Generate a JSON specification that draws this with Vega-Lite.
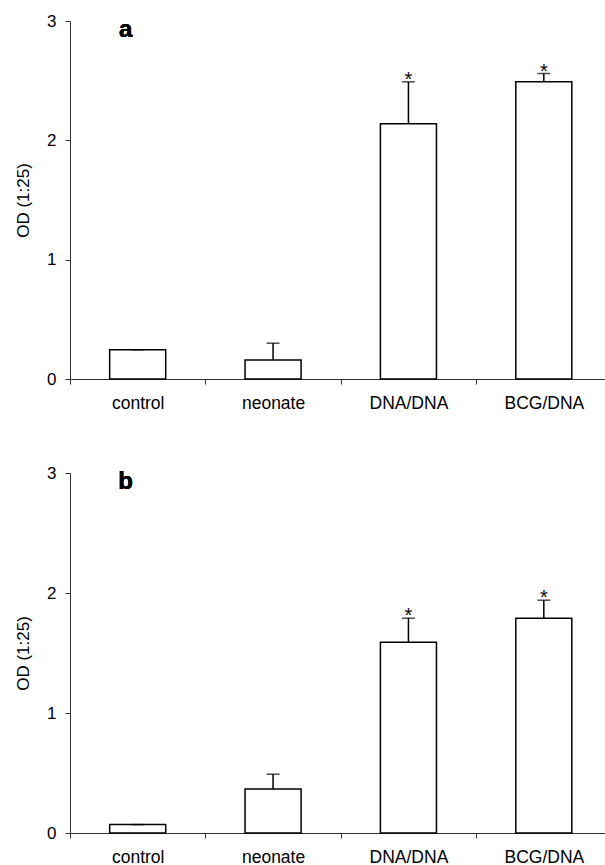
{
  "$schema": "https://vega.github.io/schema/vega-lite/v6.json",
  "padding": {"left": 14, "top": 12, "right": 0, "bottom": 0},
  "background": "white",
  "config": {
    "view": {"stroke": null},
    "font": "Liberation Sans",
    "concat": {"spacing": 52},
    "axis": {"domainColor": "#333", "tickColor": "#333", "labelColor": "black", "titleColor": "black", "grid": false, "domainWidth": 1, "tickWidth": 1}
  },
  "vconcat": [
    {
      "width": 539,
      "height": 358,
      "data": {"values": [
        {"group": "control", "value": 0.245, "err": 0.245, "sig": ""},
        {"group": "neonate", "value": 0.16, "err": 0.30, "sig": ""},
        {"group": "DNA/DNA", "value": 2.14, "err": 2.49, "sig": "*"},
        {"group": "BCG/DNA", "value": 2.49, "err": 2.56, "sig": "*"}
      ]},
      "encoding": {
        "x": {"field": "group", "type": "nominal", "sort": null,
          "scale": {"range": [0, 541.5], "paddingInner": 0.586, "paddingOuter": 0.293},
          "axis": {"title": null, "labelAngle": 0, "labelFontSize": 17.5, "tickSize": 5, "labelPadding": 10, "tickOffset": -67.7, "labelOffset": 67.7}}
      },
      "layer": [
        {"mark": {"type": "bar", "fill": "white", "stroke": "black", "strokeWidth": 1.5},
         "encoding": {"y": {"field": "value", "type": "quantitative", "scale": {"domain": [0, 3]},
           "axis": {"values": [0, 1, 2, 3], "format": "d", "title": "OD (1:25)", "titleFontSize": 17, "titleFontWeight": "normal", "titlePadding": 14, "labelFontSize": 17, "tickSize": 5, "labelPadding": 9}}}},
        {"mark": {"type": "rule", "color": "black", "strokeWidth": 1.5},
         "encoding": {"y": {"field": "value", "type": "quantitative"}, "y2": {"field": "err"}}},
        {"mark": {"type": "tick", "orient": "horizontal", "size": 13, "thickness": 1.5, "color": "black"},
         "encoding": {"y": {"field": "err", "type": "quantitative"}}},
        {"mark": {"type": "text", "fontSize": 20, "baseline": "alphabetic", "dy": 4, "color": "black"},
         "encoding": {"y": {"field": "err", "type": "quantitative"}, "text": {"field": "sig"}}},
        {"mark": {"type": "text", "text": "a", "fontSize": 24, "fontWeight": "bold", "align": "center", "baseline": "alphabetic", "dx": -12, "color": "black"},
         "encoding": {"x": {"datum": "control"}, "y": {"datum": 2.87}}}
      ]
    },
    {
      "width": 539,
      "height": 360,
      "data": {"values": [
        {"group": "control", "value": 0.07, "err": 0.07, "sig": ""},
        {"group": "neonate", "value": 0.367, "err": 0.49, "sig": ""},
        {"group": "DNA/DNA", "value": 1.59, "err": 1.79, "sig": "*"},
        {"group": "BCG/DNA", "value": 1.79, "err": 1.94, "sig": "*"}
      ]},
      "encoding": {
        "x": {"field": "group", "type": "nominal", "sort": null,
          "scale": {"range": [0, 541.5], "paddingInner": 0.586, "paddingOuter": 0.293},
          "axis": {"title": null, "labelAngle": 0, "labelFontSize": 17.5, "tickSize": 5, "labelPadding": 10, "tickOffset": -67.7, "labelOffset": 67.7}}
      },
      "layer": [
        {"mark": {"type": "bar", "fill": "white", "stroke": "black", "strokeWidth": 1.5},
         "encoding": {"y": {"field": "value", "type": "quantitative", "scale": {"domain": [0, 3]},
           "axis": {"values": [0, 1, 2, 3], "format": "d", "title": "OD (1:25)", "titleFontSize": 17, "titleFontWeight": "normal", "titlePadding": 14, "labelFontSize": 17, "tickSize": 5, "labelPadding": 9}}}},
        {"mark": {"type": "rule", "color": "black", "strokeWidth": 1.5},
         "encoding": {"y": {"field": "value", "type": "quantitative"}, "y2": {"field": "err"}}},
        {"mark": {"type": "tick", "orient": "horizontal", "size": 13, "thickness": 1.5, "color": "black"},
         "encoding": {"y": {"field": "err", "type": "quantitative"}}},
        {"mark": {"type": "text", "fontSize": 20, "baseline": "alphabetic", "dy": 4, "color": "black"},
         "encoding": {"y": {"field": "err", "type": "quantitative"}, "text": {"field": "sig"}}},
        {"mark": {"type": "text", "text": "b", "fontSize": 24, "fontWeight": "bold", "align": "center", "baseline": "alphabetic", "dx": -12, "color": "black"},
         "encoding": {"x": {"datum": "control"}, "y": {"datum": 2.87}}}
      ]
    }
  ]
}
